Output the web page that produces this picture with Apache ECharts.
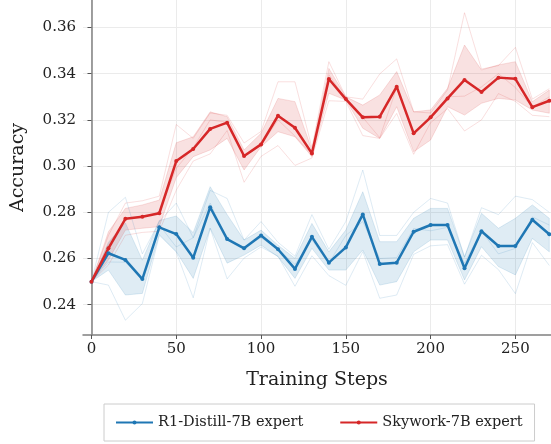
<!DOCTYPE html>
<html>
<head>
<meta charset="utf-8">
<script src="https://cdn.jsdelivr.net/npm/echarts@6.0.0/dist/echarts.min.js"></script>
<style>
  html, body { margin: 0; padding: 0; background: #fff; }
  #main { width: 551px; height: 444px; }
</style>
</head>
<body>
<div id="main"></div>
<script>
// training steps
const steps = [0, 10, 20, 30, 40, 50, 60, 70, 80, 90, 100, 110, 120, 130, 140, 150, 160, 170, 180, 190, 200, 210, 220, 230, 240, 250, 260, 270];
const xTicks = [0, 50, 100, 150, 200, 250];
const yTicks = [0.24, 0.26, 0.28, 0.30, 0.32, 0.34, 0.36];

// R1-Distill-7B expert
const distillMean = [0.2500, 0.2623, 0.2594, 0.2511, 0.2735, 0.2706, 0.2603, 0.2822, 0.2684, 0.2644, 0.2700, 0.2640, 0.2555, 0.2694, 0.2582, 0.2648, 0.2791, 0.2576, 0.2582, 0.2716, 0.2745, 0.2745, 0.2558, 0.2718, 0.2654, 0.2654, 0.2768, 0.2705];
const distillHi = [0.2500, 0.2670, 0.2754, 0.2593, 0.2765, 0.2784, 0.2712, 0.2911, 0.2790, 0.2680, 0.2723, 0.2658, 0.2601, 0.2752, 0.2629, 0.2723, 0.2889, 0.2673, 0.2673, 0.2774, 0.2817, 0.2817, 0.2608, 0.2796, 0.2731, 0.2774, 0.2832, 0.2774];
const distillLo = [0.2500, 0.2550, 0.2442, 0.2449, 0.2705, 0.2630, 0.2514, 0.2731, 0.2580, 0.2615, 0.2658, 0.2608, 0.2514, 0.2644, 0.2550, 0.2550, 0.2637, 0.2485, 0.2500, 0.2629, 0.2680, 0.2680, 0.2507, 0.2651, 0.2565, 0.2529, 0.2687, 0.2629];
const distillRun1 = [0.2500, 0.2800, 0.2865, 0.2620, 0.2760, 0.2840, 0.2690, 0.2895, 0.2860, 0.2680, 0.2760, 0.2670, 0.2610, 0.2790, 0.2640, 0.2760, 0.2983, 0.2700, 0.2700, 0.2800, 0.2860, 0.2840, 0.2605, 0.2820, 0.2790, 0.2870, 0.2855, 0.2800];
const distillRun2 = [0.2500, 0.2585, 0.2584, 0.2508, 0.2745, 0.2650, 0.2690, 0.2840, 0.2680, 0.2650, 0.2690, 0.2640, 0.2575, 0.2680, 0.2580, 0.2700, 0.2760, 0.2600, 0.2604, 0.2730, 0.2720, 0.2735, 0.2580, 0.2720, 0.2620, 0.2644, 0.2780, 0.2745];
const distillRun3 = [0.2500, 0.2485, 0.2333, 0.2405, 0.2700, 0.2628, 0.2430, 0.2731, 0.2512, 0.2602, 0.2650, 0.2610, 0.2480, 0.2612, 0.2526, 0.2484, 0.2630, 0.2428, 0.2442, 0.2618, 0.2655, 0.2660, 0.2489, 0.2614, 0.2552, 0.2448, 0.2669, 0.2570];

// Skywork-7B expert
const skyworkMean = [0.2500, 0.2644, 0.2772, 0.2781, 0.2796, 0.3022, 0.3074, 0.3161, 0.3188, 0.3044, 0.3094, 0.3218, 0.3166, 0.3055, 0.3377, 0.3290, 0.3211, 0.3214, 0.3344, 0.3142, 0.3211, 0.3293, 0.3373, 0.3321, 0.3383, 0.3378, 0.3255, 0.3283];
const skyworkHi = [0.2500, 0.2716, 0.2817, 0.2832, 0.2853, 0.3101, 0.3127, 0.3235, 0.3214, 0.3070, 0.3142, 0.3293, 0.3279, 0.3070, 0.3423, 0.3300, 0.3264, 0.3308, 0.3409, 0.3235, 0.3243, 0.3337, 0.3524, 0.3416, 0.3438, 0.3452, 0.3279, 0.3329];
const skyworkLo = [0.2500, 0.2594, 0.2723, 0.2731, 0.2738, 0.2950, 0.3041, 0.3070, 0.3120, 0.2983, 0.3084, 0.3149, 0.3127, 0.3041, 0.3315, 0.3286, 0.3164, 0.3120, 0.3257, 0.3062, 0.3113, 0.3257, 0.3221, 0.3272, 0.3293, 0.3286, 0.3243, 0.3229];
const skyworkRun1 = [0.2500, 0.2700, 0.2840, 0.2850, 0.2870, 0.3180, 0.3120, 0.3230, 0.3220, 0.3100, 0.3150, 0.3365, 0.3365, 0.3080, 0.3452, 0.3300, 0.3290, 0.3399, 0.3464, 0.3235, 0.3230, 0.3330, 0.3664, 0.3420, 0.3435, 0.3514, 0.3290, 0.3335];
const skyworkRun2 = [0.2500, 0.2660, 0.2775, 0.2780, 0.2800, 0.2990, 0.3080, 0.3200, 0.3190, 0.3040, 0.3090, 0.3200, 0.3130, 0.3050, 0.3396, 0.3290, 0.3211, 0.3123, 0.3340, 0.3140, 0.3215, 0.3300, 0.3303, 0.3343, 0.3400, 0.3340, 0.3255, 0.3300];
const skyworkRun3 = [0.2500, 0.2572, 0.2701, 0.2713, 0.2718, 0.2896, 0.3022, 0.3053, 0.3154, 0.2930, 0.3042, 0.3089, 0.3003, 0.3035, 0.3283, 0.3280, 0.3132, 0.3120, 0.3228, 0.3051, 0.3188, 0.3249, 0.3152, 0.3200, 0.3314, 0.3280, 0.3220, 0.3214];

const BLUE = '#1f77b4';
const RED = '#d62728';
const FONT = 'DejaVu Serif';

const pairs = (ys) => steps.map((s, i) => [s, ys[i]]);

// shaded band drawn as one polygon
const band = (lo, hi, fill) => ({
  type: 'custom',
  silent: true,
  clip: true,
  data: steps.map((s, i) => [s, lo[i], hi[i]]),
  encode: { x: 0, y: [1, 2] },
  renderItem: (params, api) => {
    if (params.dataIndex !== 0) return;
    const top = steps.map((s, i) => api.coord([s, hi[i]]));
    const bot = steps.map((s, i) => api.coord([s, lo[i]])).reverse();
    return {
      type: 'polygon',
      shape: { points: top.concat(bot) },
      style: { fill: fill, stroke: fill, lineWidth: 1 }
    };
  }
});

const run = (ys, color) => ({
  type: 'line',
  silent: true,
  showSymbol: false,
  data: pairs(ys),
  lineStyle: { color: color, width: 1 }
});

const mean = (name, ys, color) => ({
  name: name,
  type: 'line',
  data: pairs(ys),
  symbol: 'circle',
  symbolSize: 4,
  showSymbol: true,
  itemStyle: { color: color },
  lineStyle: { color: color, width: 2.5 },
  z: 5
});

const chart = echarts.init(document.getElementById('main'));
chart.setOption({
  animation: false,
  backgroundColor: '#fff',
  grid: { left: 83, right: 0, top: 0, bottom: 109, outerBoundsMode: 'none', containLabel: false },
  legend: {
    data: ['R1-Distill-7B expert', 'Skywork-7B expert'],
    left: 104,
    top: 404,
    padding: [11, 12, 11, 11],
    itemGap: 36,
    itemWidth: 37,
    itemHeight: 5,
    borderColor: '#cccccc',
    borderWidth: 1,
    borderRadius: 0,
    textStyle: { fontFamily: FONT, fontSize: 14.5, color: '#222' }
  },
  xAxis: {
    type: 'value',
    min: -5,
    max: 271,
    name: 'Training Steps',
    nameLocation: 'middle',
    nameGap: 36,
    nameTextStyle: { fontFamily: FONT, fontSize: 19, color: '#222' },
    axisLine: { lineStyle: { color: '#808080', width: 1.5 } },
    axisTick: { show: true, length: 4, customValues: xTicks, lineStyle: { color: '#555' } },
    axisLabel: { customValues: xTicks, fontFamily: FONT, fontSize: 15, color: '#222', margin: 7 },
    splitLine: { show: true, lineStyle: { color: '#ebebeb', width: 1 } }
  },
  yAxis: {
    type: 'value',
    min: 0.2269,
    max: 0.3719,
    name: 'Accuracy',
    nameLocation: 'middle',
    nameGap: 55,
    nameTextStyle: { fontFamily: FONT, fontSize: 19, color: '#222' },
    axisLine: { show: true, lineStyle: { color: '#808080', width: 1.5 } },
    axisTick: { show: true, length: 4, customValues: yTicks, lineStyle: { color: '#555' } },
    axisLabel: {
      customValues: yTicks,
      fontFamily: FONT, fontSize: 15, color: '#222', margin: 7,
      formatter: (v) => v.toFixed(2)
    },
    splitLine: { show: true, lineStyle: { color: '#ebebeb', width: 1 } }
  },
  series: [
    band(distillLo, distillHi, 'rgba(31,119,180,0.14)'),
    run(distillRun1, 'rgba(31,119,180,0.15)'),
    run(distillRun2, 'rgba(31,119,180,0.15)'),
    run(distillRun3, 'rgba(31,119,180,0.15)'),
    band(skyworkLo, skyworkHi, 'rgba(214,39,40,0.14)'),
    run(skyworkRun1, 'rgba(214,39,40,0.15)'),
    run(skyworkRun2, 'rgba(214,39,40,0.15)'),
    run(skyworkRun3, 'rgba(214,39,40,0.15)'),
    mean('R1-Distill-7B expert', distillMean, BLUE),
    mean('Skywork-7B expert', skyworkMean, RED)
  ]
});
window.addEventListener('resize', () => chart.resize());
</script>
</body>
</html>
